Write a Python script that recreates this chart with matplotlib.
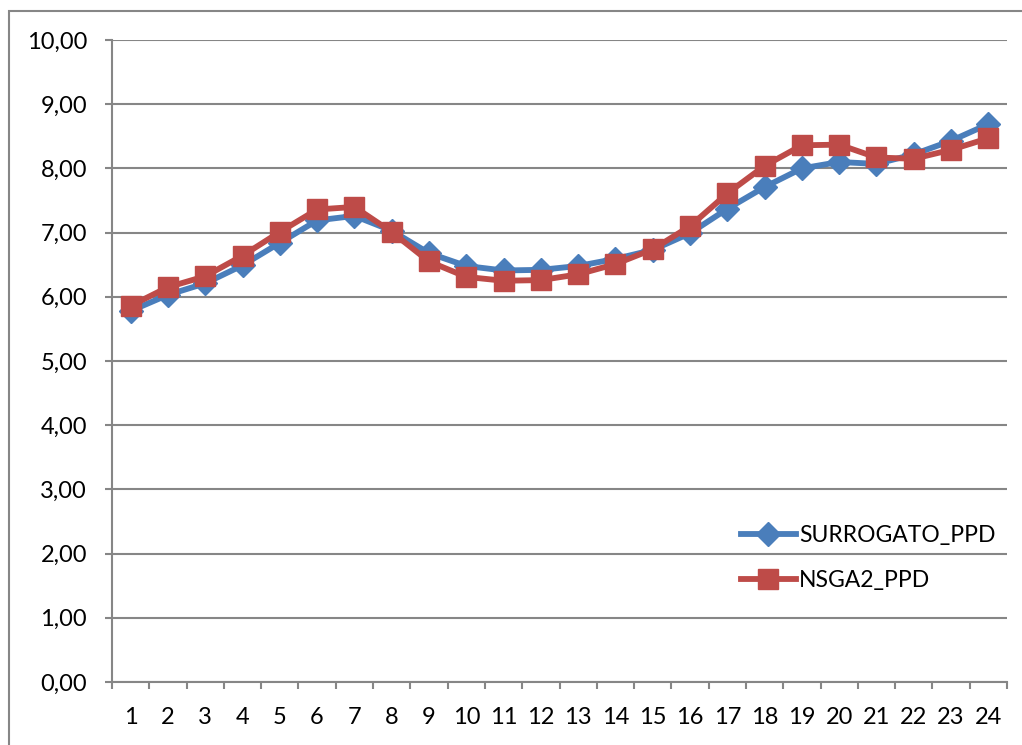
import matplotlib.pyplot as plt
from matplotlib.patches import Rectangle
import numpy as np

plt.rcParams['font.family'] = ['Lato', 'DejaVu Sans']

hours = list(range(1, 25))
surrogato_ppd = [5.78, 6.03, 6.21, 6.49, 6.84, 7.19, 7.26, 7.03, 6.68, 6.48, 6.41, 6.42,
                 6.48, 6.59, 6.73, 6.99, 7.37, 7.71, 8.00, 8.10, 8.07, 8.22, 8.43, 8.69]
nsga2_ppd = [5.86, 6.15, 6.32, 6.64, 7.01, 7.36, 7.40, 7.01, 6.55, 6.31, 6.25, 6.26,
             6.35, 6.51, 6.74, 7.10, 7.61, 8.04, 8.36, 8.37, 8.17, 8.15, 8.29, 8.47]
y_ticks = np.arange(0, 11, 1)

blue = '#4A7EBB'
red = '#BE4B48'
grid_color = '#868686'

fig = plt.figure(figsize=(10.22, 7.45), dpi=100)
ax = fig.add_axes([112 / 1022, 1 - 682 / 745, (1007 - 112) / 1022, (682 - 40) / 745])

# chart area frame (runs off the right and bottom edge)
fig.patches.append(Rectangle((9 / 1022, -0.1), 1.2, 1 - 10.5 / 745 + 0.1,
                             transform=fig.transFigure, fill=False,
                             edgecolor=grid_color, linewidth=1.5))

ax.plot(hours, surrogato_ppd, '-D', color=blue, linewidth=4.2, markersize=12,
        label='SURROGATO_PPD', zorder=3)
ax.plot(hours, nsga2_ppd, '-s', color=red, linewidth=4.2, markersize=14.5,
        label='NSGA2_PPD', zorder=4)

ax.set_xlim(0.5, 24.5)
ax.set_ylim(0, 10)

ax.set_yticks(y_ticks)
ax.set_yticklabels([f'{v:.2f}'.replace('.', ',') for v in y_ticks])
ax.yaxis.grid(True, color=grid_color, linewidth=1.5)
ax.set_axisbelow(True)

ax.set_xticks(np.arange(0.5, 25, 1))
ax.set_xticklabels([])
ax.set_xticks(hours, minor=True)
ax.set_xticklabels([str(h) for h in hours], minor=True)

ax.tick_params(axis='x', which='major', length=5, width=1.5, color=grid_color, direction='out')
ax.tick_params(axis='x', which='minor', length=0, pad=18, labelsize=17)
ax.tick_params(axis='y', length=5, width=1.5, color=grid_color, pad=13, labelsize=17)

for side in ['top', 'right']:
    ax.spines[side].set_visible(False)
for side in ['left', 'bottom']:
    ax.spines[side].set_color(grid_color)
    ax.spines[side].set_linewidth(1.5)

ax.legend(loc='upper left', bbox_to_anchor=(720 / 1022, 1 - 504 / 745),
          bbox_transform=fig.transFigure, frameon=False, fontsize=16.5,
          handlelength=2.4, handletextpad=0.15, labelspacing=1.05)

fig.savefig('out.png', dpi=100)
